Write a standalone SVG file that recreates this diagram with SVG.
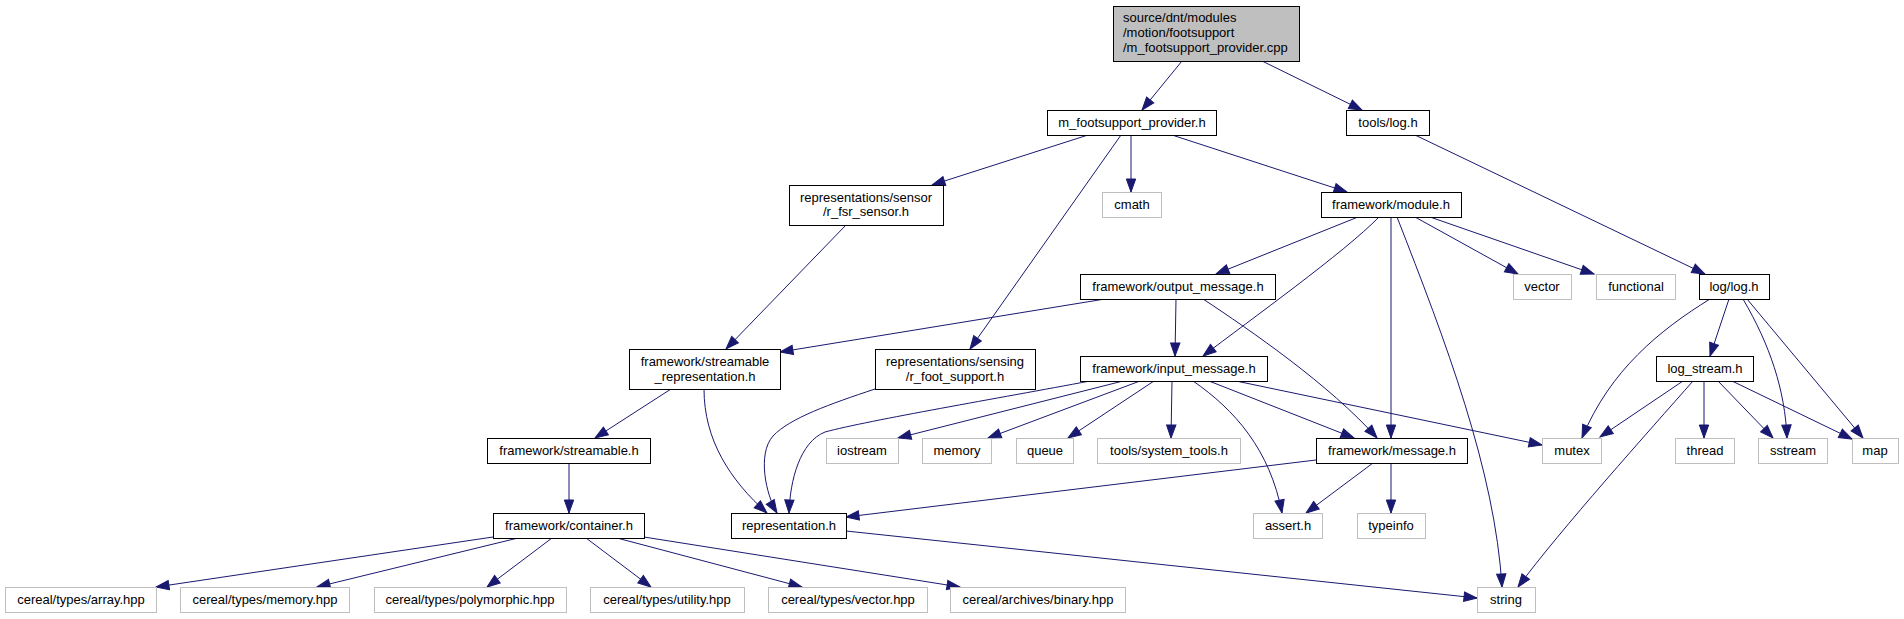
<svg xmlns="http://www.w3.org/2000/svg" width="1904" height="619" viewBox="0 0 1904 619">
<style>
text{font-family:"Liberation Sans",Arial,Helvetica,sans-serif;font-size:13px;fill:#000;text-anchor:middle}
text.l{text-anchor:start}
.n rect{fill:#fff;stroke:#000;stroke-width:1}
.x rect{fill:#fff;stroke:#bfbfbf;stroke-width:1}
.r rect{fill:#bfbfbf;stroke:#000;stroke-width:1}
#edges path{fill:none;stroke:#191970;stroke-width:1;marker-end:url(#ah)}
</style>
<defs>
<marker id="ah" markerWidth="14" markerHeight="10" refX="13" refY="4.67" orient="auto" markerUnits="userSpaceOnUse" overflow="visible">
<path d="M0,0 L13,4.67 L0,9.33 Z" fill="#191970" stroke="#191970" stroke-width="1"/>
</marker>
</defs>
<rect width="1904" height="619" fill="#fff"/>
<g id="edges">
<path d="M1182,61 L1142,110"/>
<path d="M1262,61 L1362,110"/>
<path d="M1088,135 L932,185"/>
<path d="M1131,135 L1131,192"/>
<path d="M1172,135 L1347,192"/>
<path d="M1121,135 L970,349"/>
<path d="M846,225 L726,349"/>
<path d="M1358,217 L1216,274"/>
<path d="M1379,217 C1345,252 1250,320 1203,356"/>
<path d="M1391,217 L1391,438"/>
<path d="M1397,217 C1445,340 1495,470 1502,587"/>
<path d="M1415,217 L1518,274"/>
<path d="M1430,217 L1594,274"/>
<path d="M1415,135 L1705,274"/>
<path d="M1105,299 L780,352"/>
<path d="M1176,299 L1175,356"/>
<path d="M1203,299 C1250,330 1330,385 1377,438"/>
<path d="M671,389 L595,438"/>
<path d="M704,389 C704,440 730,480 767,513"/>
<path d="M875,389 C830,404 790,418 773,436 C757,454 766,495 777,513"/>
<path d="M1090,381 C1000,398 870,420 825,432 C800,442 790,480 789,513"/>
<path d="M1123,381 L898,438"/>
<path d="M1140,381 L988,438"/>
<path d="M1154,381 L1068,438"/>
<path d="M1172,381 L1171,438"/>
<path d="M1193,381 C1235,410 1270,450 1282,513"/>
<path d="M1209,381 L1354,438"/>
<path d="M1236,381 L1542,445"/>
<path d="M569,463 L569,513"/>
<path d="M1316,460 L846,517"/>
<path d="M1373,463 L1306,513"/>
<path d="M1391,463 L1391,513"/>
<path d="M846,531 L1477,598"/>
<path d="M493,537 L156,587"/>
<path d="M518,538 L317,587"/>
<path d="M552,538 L487,587"/>
<path d="M586,538 L651,587"/>
<path d="M617,538 L802,587"/>
<path d="M644,537 L960,587"/>
<path d="M1710,299 C1660,330 1610,370 1582,438"/>
<path d="M1729,299 L1710,356"/>
<path d="M1743,299 C1770,345 1785,390 1787,438"/>
<path d="M1747,299 L1863,438"/>
<path d="M1683,381 L1600,437"/>
<path d="M1693,381 C1650,430 1560,530 1518,587"/>
<path d="M1704,381 L1704,438"/>
<path d="M1718,381 L1773,438"/>
<path d="M1732,381 L1852,439"/>
</g>
<g id="root" class="r"><rect x="1113.5" y="6.5" width="186" height="55"/><text class="l" x="1123" y="22">source/dnt/modules</text><text class="l" x="1123" y="37">/motion/footsupport</text><text class="l" x="1123" y="52">/m_footsupport_provider.cpp</text></g>
<g id="m_footsupport_provider" class="n"><rect x="1047.5" y="110.5" width="169" height="25"/><text x="1132" y="127">m_footsupport_provider.h</text></g>
<g id="tools_log" class="n"><rect x="1346.5" y="110.5" width="83" height="25"/><text x="1388" y="127">tools/log.h</text></g>
<g id="r_fsr_sensor" class="n"><rect x="789.5" y="185.5" width="154" height="40"/><text x="866" y="202">representations/sensor</text><text x="866" y="216">/r_fsr_sensor.h</text></g>
<g id="cmath" class="x"><rect x="1102.5" y="192.5" width="59" height="25"/><text x="1132" y="209">cmath</text></g>
<g id="module" class="n"><rect x="1321.5" y="192.5" width="140" height="25"/><text x="1391" y="209">framework/module.h</text></g>
<g id="output_message" class="n"><rect x="1080.5" y="274.5" width="195" height="25"/><text x="1178" y="291">framework/output_message.h</text></g>
<g id="vector" class="x"><rect x="1513.5" y="274.5" width="58" height="25"/><text x="1542" y="291">vector</text></g>
<g id="functional" class="x"><rect x="1596.5" y="274.5" width="79" height="25"/><text x="1636" y="291">functional</text></g>
<g id="log_log" class="n"><rect x="1699.5" y="274.5" width="70" height="25"/><text x="1734" y="291">log/log.h</text></g>
<g id="streamable_representation" class="n"><rect x="629.5" y="349.5" width="151" height="40"/><text x="705" y="366">framework/streamable</text><text x="705" y="380.5">_representation.h</text></g>
<g id="r_foot_support" class="n"><rect x="875.5" y="349.5" width="160" height="40"/><text x="955" y="366">representations/sensing</text><text x="955" y="380.5">/r_foot_support.h</text></g>
<g id="input_message" class="n"><rect x="1080.5" y="356.5" width="187" height="25"/><text x="1174" y="373">framework/input_message.h</text></g>
<g id="log_stream" class="n"><rect x="1656.5" y="356.5" width="97" height="25"/><text x="1705" y="373">log_stream.h</text></g>
<g id="streamable" class="n"><rect x="487.5" y="438.5" width="163" height="25"/><text x="569" y="455">framework/streamable.h</text></g>
<g id="iostream" class="x"><rect x="826.5" y="438.5" width="72" height="25"/><text x="862" y="455">iostream</text></g>
<g id="memory" class="x"><rect x="922.5" y="438.5" width="69" height="25"/><text x="957" y="455">memory</text></g>
<g id="queue" class="x"><rect x="1016.5" y="438.5" width="57" height="25"/><text x="1045" y="455">queue</text></g>
<g id="system_tools" class="x"><rect x="1097.5" y="438.5" width="143" height="25"/><text x="1169" y="455">tools/system_tools.h</text></g>
<g id="message" class="n"><rect x="1316.5" y="438.5" width="151" height="25"/><text x="1392" y="455">framework/message.h</text></g>
<g id="mutex" class="x"><rect x="1542.5" y="438.5" width="59" height="25"/><text x="1572" y="455">mutex</text></g>
<g id="thread" class="x"><rect x="1675.5" y="438.5" width="59" height="25"/><text x="1705" y="455">thread</text></g>
<g id="sstream" class="x"><rect x="1758.5" y="438.5" width="69" height="25"/><text x="1793" y="455">sstream</text></g>
<g id="map" class="x"><rect x="1852.5" y="438.5" width="46" height="25"/><text x="1875" y="455">map</text></g>
<g id="container" class="n"><rect x="493.5" y="513.5" width="151" height="25"/><text x="569" y="530">framework/container.h</text></g>
<g id="representation" class="n"><rect x="731.5" y="513.5" width="115" height="25"/><text x="789" y="530">representation.h</text></g>
<g id="assert" class="x"><rect x="1253.5" y="513.5" width="69" height="25"/><text x="1288" y="530">assert.h</text></g>
<g id="typeinfo" class="x"><rect x="1357.5" y="513.5" width="68" height="25"/><text x="1391" y="530">typeinfo</text></g>
<g id="cereal_array" class="x"><rect x="5.5" y="587.5" width="151" height="25"/><text x="81" y="604">cereal/types/array.hpp</text></g>
<g id="cereal_memory" class="x"><rect x="180.5" y="587.5" width="169" height="25"/><text x="265" y="604">cereal/types/memory.hpp</text></g>
<g id="cereal_polymorphic" class="x"><rect x="374.5" y="587.5" width="192" height="25"/><text x="470" y="604">cereal/types/polymorphic.hpp</text></g>
<g id="cereal_utility" class="x"><rect x="590.5" y="587.5" width="154" height="25"/><text x="667" y="604">cereal/types/utility.hpp</text></g>
<g id="cereal_vector" class="x"><rect x="768.5" y="587.5" width="159" height="25"/><text x="848" y="604">cereal/types/vector.hpp</text></g>
<g id="cereal_binary" class="x"><rect x="950.5" y="587.5" width="175" height="25"/><text x="1038" y="604">cereal/archives/binary.hpp</text></g>
<g id="string" class="x"><rect x="1477.5" y="587.5" width="58" height="25"/><text x="1506" y="604">string</text></g>
</svg>
